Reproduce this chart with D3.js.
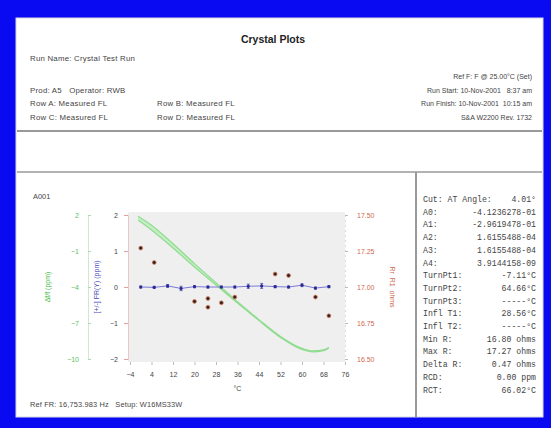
<!DOCTYPE html>
<html><head><meta charset="utf-8">
<script src="https://cdn.jsdelivr.net/npm/d3@7"></script>
<style>
body{margin:0;padding:0;background:#fff;}
svg{display:block;font-family:"Liberation Sans",Arial,sans-serif;}
text{white-space:pre;}
</style></head>
<body>
<svg id="c" width="551" height="428"></svg>
<script>
// ---- data ----
const xTicks = [-4, 4, 12, 20, 28, 36, 44, 52, 60, 68, 76];
const ppmTicks = [2, 1, 0, -1, -2];
const greenTicks = [2, -1, -4, -7, -10];
const rTicks = [17.50, 17.25, 17.00, 16.75, 16.50];

const greenTemps = [-1, 4, 12, 20, 28, 36, 44, 52, 60, 64, 68, 70];
const greenLow  = [1.58, 0.75, -0.75, -2.33, -3.83, -5.33, -6.8, -8.2, -9.2, -9.4, -9.3, -9.1];
const greenHigh = [1.9, 1.15, -0.4, -2.05, -3.65, -5.22, -6.72, -8.12, -9.12, -9.33, -9.24, -9.05];

const frTemps  = [0, 5, 10, 15, 20, 25, 30, 35, 40, 45, 50, 55, 60, 65, 70];
const frValues = [0, -0.01, 0.03, -0.04, 0.01, 0, 0, 0, 0.02, 0.03, 0.01, 0, 0.05, -0.03, 0.01];
const frErr    = [0.03, 0.03, 0.04, 0.06, 0.03, 0.03, 0.03, 0.03, 0.06, 0.07, 0.03, 0.03, 0.04, 0.03, 0.03];

const rTemps  = [0, 5, 20, 25, 25, 30, 35, 50, 55, 65, 70];
const rValues = [17.27, 17.17, 16.90, 16.92, 16.86, 16.89, 16.93, 17.09, 17.08, 16.93, 16.80];

const headerLeft = [
  ["Run Name: Crystal Test Run", 61],
  ["Prod: A5   Operator: RWB", 93],
  ["Row A: Measured FL", 106],
  ["Row C: Measured FL", 120]
];
const headerMid = [["Row B: Measured FL", 106], ["Row D: Measured FL", 120]];
const headerRight = [
  ["Ref F: F @ 25.00°C (Set)", 79],
  ["Run Start: 10-Nov-2001   8:37 am", 93],
  ["Run Finish: 10-Nov-2001  10:15 am", 106],
  ["S&A W2200 Rev. 1732", 120]
];
const panelLabels = ["Cut: AT Angle:", "A0:", "A1:", "A2:", "A3:", "A4:", "TurnPt1:", "TurnPt2:", "TurnPt3:",
  "Infl T1:", "Infl T2:", "Min R:", "Max R:", "Delta R:", "RCD:", "RCT:"];
const panelValues = ["4.01°", "-4.1236278-01", "-2.9619478-01", "1.6155488-04", "1.6155488-04", "3.9144158-09",
  "-7.11°C", "64.66°C", "-----°C", "28.56°C", "-----°C", "16.80 ohms", "17.27 ohms", "0.47 ohms", "0.00 ppm", "66.02°C"];

// ---- drawing ----
const svg = d3.select("#c");
svg.append("rect").attr("x",0).attr("y",0).attr("width",551).attr("height",428).attr("fill","#0a0af2");
svg.append("rect").attr("x",16).attr("y",18).attr("width",527).attr("height",399).attr("fill","#fff")
  .attr("stroke","#d8d8e0").attr("stroke-width",1);

const txt = "#444";
svg.append("text").attr("x",273).attr("y",43).attr("text-anchor","middle")
  .attr("font-size",10.5).attr("font-weight","bold").attr("fill","#222").text("Crystal Plots");
headerLeft.forEach(d=>svg.append("text").attr("x",30).attr("y",d[1]).attr("font-size",7.8).attr("letter-spacing",0.25).attr("fill",txt).text(d[0]));
headerMid.forEach(d=>svg.append("text").attr("x",157).attr("y",d[1]).attr("font-size",7.8).attr("letter-spacing",0.25).attr("fill",txt).text(d[0]));
headerRight.forEach(d=>svg.append("text").attr("x",532).attr("y",d[1]).attr("text-anchor","end").attr("font-size",7).attr("fill",txt).text(d[0]));

// separators
svg.append("line").attr("x1",17).attr("x2",542).attr("y1",131).attr("y2",131).attr("stroke","#999").attr("stroke-width",2);
svg.append("line").attr("x1",17).attr("x2",542).attr("y1",172).attr("y2",172).attr("stroke","#999").attr("stroke-width",1.5);
svg.append("line").attr("x1",416).attr("x2",416).attr("y1",172).attr("y2",417).attr("stroke","#999").attr("stroke-width",2);

svg.append("text").attr("x",33).attr("y",199).attr("font-size",7.4).attr("fill",txt).text("A001");
svg.append("text").attr("x",30).attr("y",407).attr("font-size",7.4).attr("letter-spacing",0.15).attr("fill",txt).text("Ref FR: 16,753.983 Hz   Setup: W16MS33W");

// scales
const x = d3.scaleLinear().domain([-4, 76]).range([130, 345]);
const yP = d3.scaleLinear().domain([-2, 2]).range([359, 215]);
const yG = d3.scaleLinear().domain([-10, 2]).range([359, 215]);
const yR = d3.scaleLinear().domain([16.5, 17.5]).range([359, 215]);

svg.append("rect").attr("x",128).attr("y",212).attr("width",217).attr("height",150).attr("fill","#efefef");

// x axis
const gx = svg.append("g").attr("transform","translate(0,362)")
  .call(d3.axisBottom(x).tickValues(xTicks).tickSize(3).tickPadding(7).tickFormat(d3.format("d")));
gx.select(".domain").remove();
gx.selectAll("line").attr("stroke","#bbb");
gx.selectAll("text").attr("font-size",7).attr("fill",txt).attr("font-family","Liberation Sans, Arial");
svg.append("text").attr("x",x(36)).attr("y",391).attr("text-anchor","middle").attr("font-size",7).attr("fill",txt).text("°C");

// inner left axis (ppm)
const gp = svg.append("g").attr("transform","translate(128,0)")
  .call(d3.axisLeft(yP).tickValues(ppmTicks).tickSize(4).tickPadding(6).tickFormat(d3.format("d")));
gp.select(".domain").attr("stroke","#e8c8c8");
gp.selectAll("line").attr("stroke","#e0a0a0");
gp.selectAll("text").attr("font-size",7).attr("fill",txt).attr("font-family","Liberation Sans, Arial");
svg.append("text").attr("transform","translate(99,"+yP(0)+") rotate(-90)").attr("text-anchor","middle")
  .attr("font-size",7).attr("fill","#4a4ab8").text("[+/-] FR(Y) (ppm)");

// outer green axis
const gg = svg.append("g").attr("transform","translate(88,0)")
  .call(d3.axisRight(yG).tickValues(greenTicks).tickSize(3).tickPadding(-12).tickFormat(d3.format("d")));
gg.select(".domain").attr("stroke","#cfe8cf");
gg.selectAll("line").attr("stroke","#a8dca8");
gg.selectAll("text").attr("font-size",7).attr("fill","#5cc05c").attr("text-anchor","end").attr("font-family","Liberation Sans, Arial");
svg.append("text").attr("transform","translate(50,"+yP(0)+") rotate(-90)").attr("text-anchor","middle")
  .attr("font-size",7).attr("fill","#44bb44").text("Δf/f (ppm)");

// right axis (ohms)
const gr = svg.append("g").attr("transform","translate(345,0)")
  .call(d3.axisRight(yR).tickValues(rTicks).tickSize(3).tickPadding(9).tickFormat(d3.format(".2f")));
gr.select(".domain").attr("stroke","#ddd").attr("stroke-dasharray","2,3");
gr.selectAll("line").attr("stroke","#bbb");
gr.selectAll("text").attr("font-size",7).attr("fill","#d06a50").attr("font-family","Liberation Sans, Arial");
svg.append("text").attr("transform","translate(390,"+yR(17.0)+") rotate(90)").attr("text-anchor","middle")
  .attr("font-size",7).attr("fill","#d06a50").text("Rr  R1  ohms");

// green band
const gData = greenTemps.map((t,i)=>({t, lo:greenLow[i], hi:greenHigh[i]}));
svg.append("path").datum(gData)
  .attr("d", d3.area().x(d=>x(d.t)).y0(d=>yG(d.lo)).y1(d=>yG(d.hi)).curve(d3.curveMonotoneX))
  .attr("fill","#c6eec6");
["lo","hi"].forEach(k=>{
  svg.append("path").datum(gData)
    .attr("d", d3.line().x(d=>x(d.t)).y(d=>yG(d[k])).curve(d3.curveMonotoneX))
    .attr("fill","none").attr("stroke","#8fdc8f").attr("stroke-width",1.2);
});

// blue FR line
const fData = frTemps.map((t,i)=>({t, v:frValues[i], e:frErr[i]}));
svg.append("path").datum(fData)
  .attr("d", d3.line().x(d=>x(d.t)).y(d=>yP(d.v)))
  .attr("fill","none").attr("stroke","#7a7ad8").attr("stroke-width",1);
const eb = svg.append("g").selectAll("g").data(fData).join("g");
eb.append("line").attr("x1",d=>x(d.t)).attr("x2",d=>x(d.t)).attr("y1",d=>yP(d.v-d.e)).attr("y2",d=>yP(d.v+d.e))
  .attr("stroke","#5050b0").attr("stroke-width",1);
eb.append("line").attr("x1",d=>x(d.t)-1.5).attr("x2",d=>x(d.t)+1.5).attr("y1",d=>yP(d.v-d.e)).attr("y2",d=>yP(d.v-d.e))
  .attr("stroke","#5050b0").attr("stroke-width",0.8);
eb.append("line").attr("x1",d=>x(d.t)-1.5).attr("x2",d=>x(d.t)+1.5).attr("y1",d=>yP(d.v+d.e)).attr("y2",d=>yP(d.v+d.e))
  .attr("stroke","#5050b0").attr("stroke-width",0.8);
eb.append("circle").attr("cx",d=>x(d.t)).attr("cy",d=>yP(d.v)).attr("r",1.6).attr("fill","#2a2a90");

// R dots
svg.append("g").selectAll("circle").data(rTemps.map((t,i)=>({t, v:rValues[i]}))).join("circle")
  .attr("cx",d=>x(d.t)).attr("cy",d=>yR(d.v)).attr("r",2)
  .attr("fill","#3a2222").attr("stroke","#e09070").attr("stroke-width",0.8);

// right panel
const mono = "Liberation Mono, DejaVu Sans Mono, monospace";
panelLabels.forEach((l,i)=>{
  const yy = 202 + i*12.7;
  svg.append("text").attr("x",423).attr("y",yy).attr("font-size",8.2).attr("font-family",mono).attr("fill",txt).text(l);
  svg.append("text").attr("x",536).attr("y",yy).attr("text-anchor","end").attr("font-size",8.2).attr("font-family",mono).attr("fill",txt).text(panelValues[i]);
});
</script>
</body></html>
